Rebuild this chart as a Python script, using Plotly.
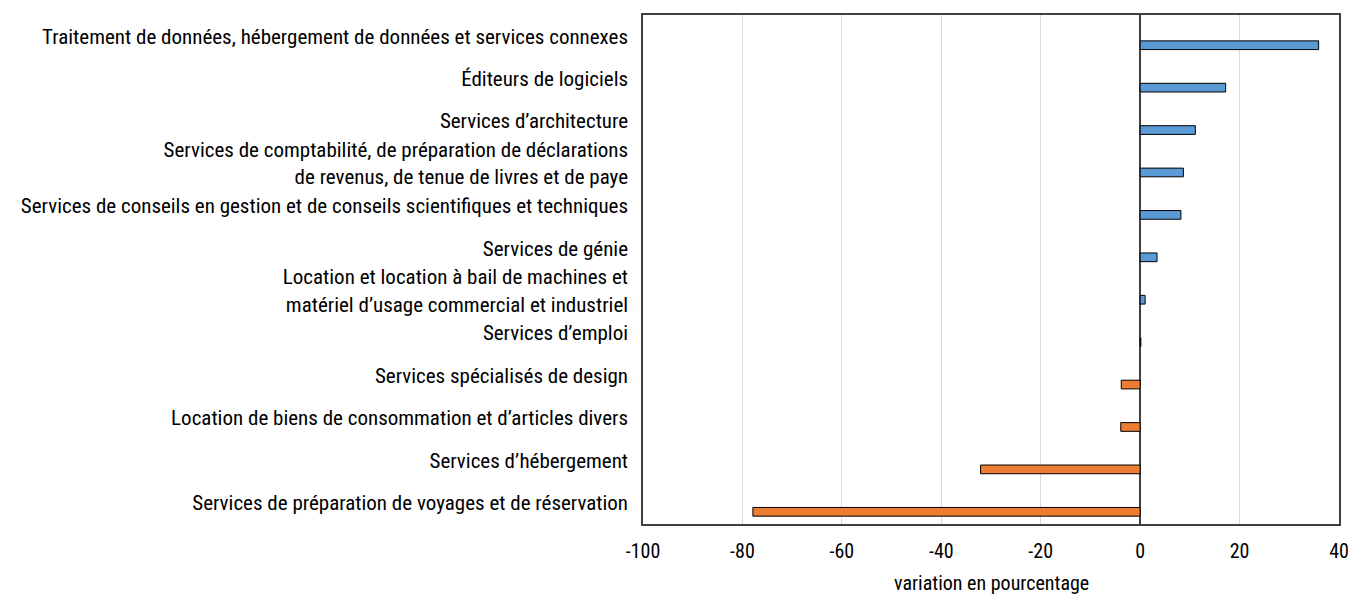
import plotly.graph_objects as go

categories = [
    "Traitement de données, hébergement de données et services connexes",
    "Éditeurs de logiciels",
    "Services d’architecture",
    "Services de comptabilité, de préparation de déclarations<br>de revenus, de tenue de livres et de paye",
    "Services de conseils en gestion et de conseils scientifiques et techniques",
    "Services de génie",
    "Location et location à bail de machines et<br>matériel d’usage commercial et industriel",
    "Services d’emploi",
    "Services spécialisés de design",
    "Location de biens de consommation et d’articles divers",
    "Services d’hébergement",
    "Services de préparation de voyages et de réservation",
]
values = [35.9, 17.2, 11.1, 8.7, 8.2, 3.4, 1.0, 0.15, -3.8, -3.9, -32.1, -77.9]
x_ticks = [-100, -80, -60, -40, -20, 0, 20, 40]
x_title = "variation en pourcentage"

POS = "#5B9BD5"
NEG = "#ED7D31"
colors = [POS if v >= 0 else NEG for v in values]

FONT = "Liberation Sans Narrow, Arial Narrow, Roboto Condensed, DejaVu Sans Condensed, sans-serif"

fig = go.Figure()
fig.add_trace(go.Bar(
    x=values,
    y=categories,
    orientation="h",
    marker=dict(color=colors, line=dict(color="#000000", width=1)),
    width=0.205,
    offset=0.11,
    showlegend=False,
))

fig.update_layout(
    width=1348,
    height=597,
    margin=dict(l=643, r=9, t=15, b=73),
    paper_bgcolor="white",
    plot_bgcolor="white",
    font=dict(family=FONT, size=21, color="#000000"),
    bargap=0.5,
)

fig.add_annotation(
    text=x_title,
    xref="paper", yref="paper",
    x=0.5, y=0,
    xanchor="center", yanchor="middle",
    yshift=-59,
    showarrow=False,
    font=dict(size=20),
)

fig.update_xaxes(
    range=[-100, 40],
    tickvals=x_ticks,
    ticktext=[str(t) for t in x_ticks],
    tickfont=dict(size=20),
    showgrid=True,
    gridcolor="#d9d9d9",
    gridwidth=1,
    zeroline=True,
    zerolinecolor="#404040",
    zerolinewidth=1.5,
    showline=True,
    linecolor="#404040",
    linewidth=1.5,
    mirror=True,
    ticks="",
    ticklabelstandoff=8,
    ticklabeloverflow="allow",
    automargin=False,
)
fig.update_yaxes(
    type="category",
    autorange="reversed",
    showgrid=False,
    showline=True,
    linecolor="#404040",
    linewidth=1.5,
    mirror=True,
    ticks="",
    ticklabelstandoff=9,
    automargin=False,
)

fig.write_html(
    "out.html",
    config={"displayModeBar": False},
    post_script="document.body.style.margin='0';document.body.style.overflow='hidden';",
)
